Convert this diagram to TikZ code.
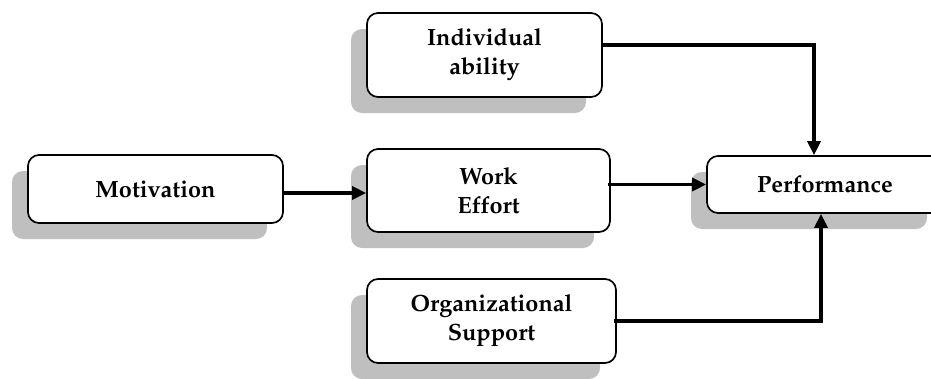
\documentclass[tikz,border=0pt]{standalone}
\usepackage[T1]{fontenc}
\usepackage{mathpazo}
\usetikzlibrary{shadows,arrows.meta}
\begin{document}
\begin{tikzpicture}[x=1pt,y=-1pt,
  box/.style={draw=black, line width=1.7pt, rounded corners=11pt, fill=white, align=center,
    font=\fontsize{23.5}{29}\selectfont\bfseries, inner sep=0pt,
    general shadow={fill=black!25, shadow xshift=-16pt, shadow yshift=-16pt}},
  arr/.style={line width=3.3pt, -{Triangle[length=14pt,width=13pt]}}]
\useasboundingbox (0,0) rectangle (931,378);
\node[box, minimum width=235pt, minimum height=84pt] (ind) at (484.5,55) {Individual\\ability};
\node[box, minimum width=255pt, minimum height=68pt] (mot) at (155.5,189) {Motivation};
\node[box, minimum width=243pt, minimum height=83pt] (work) at (488.5,190.5) {Work\\Effort};
\node[box, minimum width=236pt, minimum height=57pt] (perf) at (825,184.5) {Performance};
\node[box, minimum width=249pt, minimum height=84pt] (org) at (491.5,321) {Organizational\\Support};
\draw[arr] ([yshift=-4pt]mot.east) -- ([yshift=-4pt]mot.east -| work.west);
\draw[arr] ([xshift=-3pt]work.east |- perf.west) -- (perf.west);
\draw[arr] ([yshift=10pt]ind.east) -| ([xshift=-11pt]perf.north);
\draw[arr] ([xshift=-3pt]org.east) -| ([xshift=-4pt]perf.south);
\end{tikzpicture}
\end{document}
